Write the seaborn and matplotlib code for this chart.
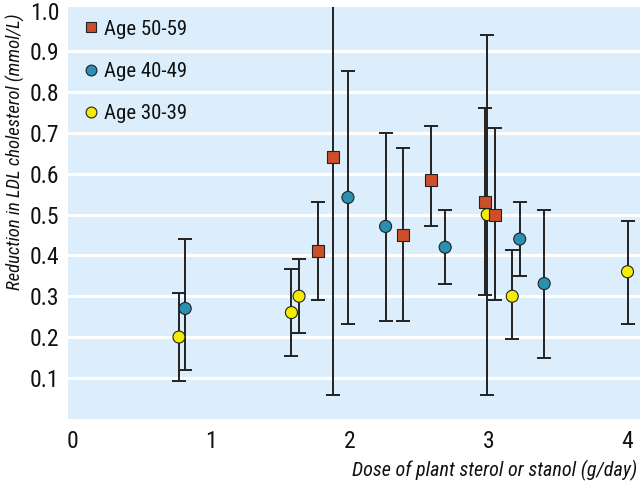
import matplotlib
matplotlib.use("Agg")
import matplotlib.pyplot as plt
import seaborn as sns
import pandas as pd
from matplotlib import font_manager

# Age 50-59 (red squares)
dose_50 = [1.77, 1.88, 2.385, 2.587, 2.975, 3.047]
red_50 = [0.41, 0.642, 0.451, 0.585, 0.532, 0.50]
lo_50 = [0.29, 0.059, 0.24, 0.473, 0.302, 0.29]
hi_50 = [0.531, 1.225, 0.663, 0.717, 0.761, 0.712]

# Age 40-49 (blue circles)
dose_40 = [0.815, 1.987, 2.258, 2.687, 3.224, 3.40]
red_40 = [0.27, 0.542, 0.471, 0.42, 0.44, 0.331]
lo_40 = [0.119, 0.231, 0.24, 0.331, 0.35, 0.149]
hi_40 = [0.44, 0.853, 0.70, 0.511, 0.53, 0.511]

# Age 30-39 (yellow circles)
dose_30 = [0.77, 1.58, 1.635, 2.99, 3.17, 4.0]
red_30 = [0.20, 0.26, 0.30, 0.50, 0.30, 0.36]
lo_30 = [0.093, 0.153, 0.211, 0.059, 0.195, 0.233]
hi_30 = [0.307, 0.366, 0.39, 0.94, 0.414, 0.485]

groups = ["Age 50-59", "Age 40-49", "Age 30-39"]
colors = {"Age 50-59": "#cc4f2a", "Age 40-49": "#2a8fb0", "Age 30-39": "#f5ec00"}
markers = {"Age 50-59": "s", "Age 40-49": "o", "Age 30-39": "o"}

x_ticks = [0, 1, 2, 3, 4]
y_ticks = [0.1, 0.2, 0.3, 0.4, 0.5, 0.6, 0.7, 0.8, 0.9, 1.0]

df = pd.concat([
    pd.DataFrame({"dose": dose_50, "red": red_50, "lo": lo_50, "hi": hi_50, "group": groups[0]}),
    pd.DataFrame({"dose": dose_40, "red": red_40, "lo": lo_40, "hi": hi_40, "group": groups[1]}),
    pd.DataFrame({"dose": dose_30, "red": red_30, "lo": lo_30, "hi": hi_30, "group": groups[2]}),
], ignore_index=True)

sns.set_style("white")
available = {f.name for f in font_manager.fontManager.ttflist}
fams = [f for f in ["Roboto Condensed", "Liberation Sans Narrow", "Liberation Sans"] if f in available]
plt.rcParams["font.family"] = fams + ["DejaVu Sans"]
plt.rcParams["text.color"] = "#111111"

fig = plt.figure(figsize=(6.4, 4.84), dpi=100)
ax = fig.add_axes([0.106, 0.135, 0.894, 0.85])
ax.set_facecolor("#dceefc")

for g in reversed(groups):
    d = df[df.group == g]
    ax.errorbar(d.dose, d.red, yerr=[d.red - d.lo, d.hi - d.red], fmt="none",
                ecolor="#222222", elinewidth=1.4, capsize=5, capthick=1.4, zorder=3)

sns.scatterplot(data=df[::-1], x="dose", y="red", hue="group", style="group",
                hue_order=groups, style_order=groups, palette=colors, markers=markers,
                s=75, edgecolor="#222222", linewidth=0.8, ax=ax, zorder=4)

for yt in y_ticks[:-1]:
    ax.axhline(yt, color="white", lw=2.2, zorder=1)

ax.set_xlim(-0.03, 4.09)
ax.set_ylim(0, 1.008)
ax.set_xticks(x_ticks)
ax.set_yticks(y_ticks)
ax.set_xticklabels([str(t) for t in x_ticks], fontsize=17)
ax.set_yticklabels([f"{t:.1f}" for t in y_ticks], fontsize=17)
ax.tick_params(axis="x", direction="in", length=6, width=2, color="white", pad=8,
               labelcolor="#111111")
ax.tick_params(axis="y", length=0, pad=6, labelcolor="#111111")
for s in ax.spines.values():
    s.set_visible(False)

ax.set_xlabel("")
ax.set_ylabel("")
fig.text(637 / 640, 1 - 470 / 484, "Dose of plant sterol or stanol (g/day)",
         fontsize=14.5, style="italic", ha="right", va="center")
fig.text(15 / 640, 1 - 152 / 484, "Reduction in LDL cholesterol (mmol/L)",
         fontsize=13.5, style="italic", ha="center", va="center", rotation=90)

leg = ax.legend(loc="upper left", frameon=False, fontsize=15, handletextpad=0.15,
                handlelength=1.0, labelspacing=1.12, borderaxespad=0.3, borderpad=0.3,
                markerscale=0.9)
for h in leg.legend_handles:
    try:
        h.set_markeredgecolor("#222222")
    except AttributeError:
        h.set_edgecolor("#222222")

fig.savefig("out.png", dpi=100)
